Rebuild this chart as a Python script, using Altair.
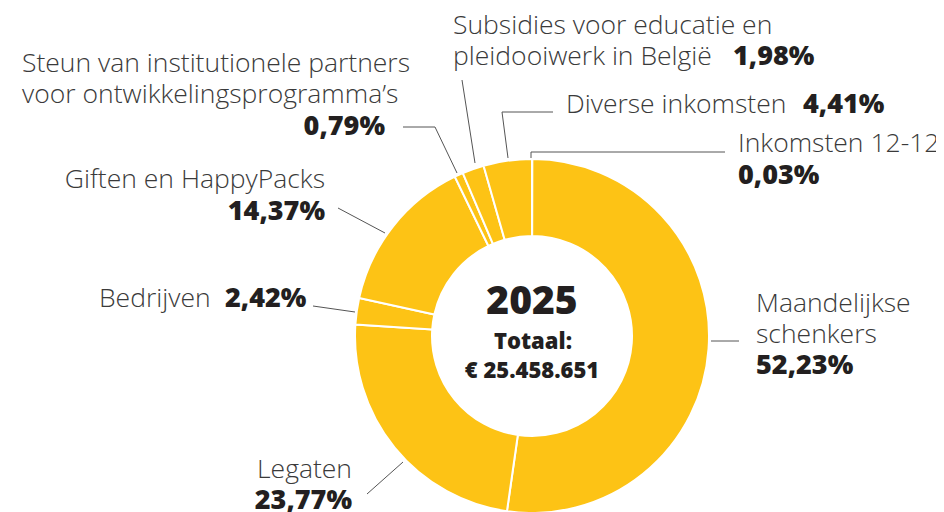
import altair as alt
import pandas as pd

# ---- data (clockwise from 12 o'clock) ----
categories = [
    "Inkomsten 12-12",
    "Maandelijkse schenkers",
    "Legaten",
    "Bedrijven",
    "Giften en HappyPacks",
    "Steun van institutionele partners voor ontwikkelingsprogramma’s",
    "Subsidies voor educatie en pleidooiwerk in België",
    "Diverse inkomsten",
]
values = [0.03, 52.23, 23.77, 2.42, 14.37, 0.79, 1.98, 4.41]
year_label = "2025"
total_label = "Totaal:"
total_value = "€ 25.458.651"

# name split into lines for the labels
name_lines = [
    ["Inkomsten 12-12"],
    ["Maandelijkse", "schenkers"],
    ["Legaten"],
    ["Bedrijven"],
    ["Giften en HappyPacks"],
    ["Steun van institutionele partners", "voor ontwikkelingsprogramma’s"],
    ["Subsidies voor educatie en", "pleidooiwerk in België"],
    ["Diverse inkomsten"],
]
pct_labels = [f"{v:.2f}".replace(".", ",") + "%" for v in values]

# ---- layout (page pixel positions of annotations) ----
name_pos = [
    [(738, 152, "left")],
    [(756, 312, "left"), (756, 343, "left")],
    [(352, 478, "right")],
    [(99, 307, "left")],
    [(325, 188, "right")],
    [(22, 72, "left"), (22, 103, "left")],
    [(453, 34, "left"), (453, 65, "left")],
    [(566, 113, "left")],
]
pct_pos = [
    (738, 184, "left"),
    (756, 374, "left"),
    (352, 509, "right"),
    (225, 307, "left"),
    (325, 220, "right"),
    (385, 135, "right"),
    (733, 65, "left"),
    (803, 113, "left"),
]
leader_pts = [
    [(531, 158), (531, 152), (725, 152)],
    [(711, 341), (739, 341)],
    [(403, 462), (367, 494)],
    [(355, 312), (313, 306)],
    [(385, 233), (338, 208)],
    [(457, 173), (435, 127), (403, 127)],
    [(475, 163), (462, 80)],
    [(508, 158), (502, 112), (553, 112)],
]

YELLOW = "#FDC315"
GREY = "#3a3a3a"
DARK = "#231F20"
LINE = "#555555"
FONT = "Open Sans"

W, H = 928, 504

slices = pd.DataFrame({"category": categories, "value": values,
                       "idx": list(range(len(values)))})

rows = []
for i in range(len(categories)):
    for line, (x, y, a) in zip(name_lines[i], name_pos[i]):
        rows.append({"text": line, "x": x, "y": y, "align": a, "style": "reg"})
    x, y, a = pct_pos[i]
    rows.append({"text": pct_labels[i], "x": x, "y": y, "align": a, "style": "bold"})
labels = pd.DataFrame(rows)

lrows = []
for i, pts in enumerate(leader_pts):
    for j, (x, y) in enumerate(pts):
        lrows.append({"seg": i, "ord": j, "x": x, "y": y})
leaders = pd.DataFrame(lrows)

xs = alt.Scale(domain=[8, 8 + W], range=[0, W])
ys = alt.Scale(domain=[8, 8 + H], range=[0, H])

CX, CY = 532 - 8, 336 - 8

donut = alt.Chart(slices).mark_arc(
    innerRadius=100, outerRadius=177, stroke="white", strokeWidth=2
).encode(
    theta=alt.Theta("value:Q", stack=True),
    order=alt.Order("idx:Q"),
    color=alt.value(YELLOW),
    x=alt.value(CX),
    y=alt.value(CY),
)

lines = alt.Chart(leaders).mark_line(color=LINE, strokeWidth=1).encode(
    x=alt.X("x:Q", scale=xs, axis=None),
    y=alt.Y("y:Q", scale=ys, axis=None),
    detail="seg:N",
    order="ord:Q",
)


def text_layer(style, align, weight, color, size):
    return alt.Chart(labels).transform_filter(
        (alt.datum.style == style) & (alt.datum.align == align)
    ).mark_text(
        align=align, baseline="alphabetic", font=FONT, fontSize=size,
        fontWeight=weight, color=color
    ).encode(
        x=alt.X("x:Q", scale=xs, axis=None),
        y=alt.Y("y:Q", scale=ys, axis=None),
        text="text:N",
    )


center = pd.DataFrame({
    "text": [year_label, total_label, total_value],
    "x": [532, 533, 532],
    "y": [314, 349, 378],
})
center_big = alt.Chart(center.iloc[[0]]).mark_text(
    align="center", baseline="alphabetic", font=FONT, fontSize=39,
    fontWeight=800, color=DARK
).encode(x=alt.X("x:Q", scale=xs, axis=None),
         y=alt.Y("y:Q", scale=ys, axis=None), text="text:N")
center_small = alt.Chart(center.iloc[1:]).mark_text(
    align="center", baseline="alphabetic", font=FONT, fontSize=22,
    fontWeight=800, color=DARK
).encode(x=alt.X("x:Q", scale=xs, axis=None),
         y=alt.Y("y:Q", scale=ys, axis=None), text="text:N")

chart = alt.layer(
    donut,
    lines,
    text_layer("reg", "left", 300, GREY, 26.5),
    text_layer("reg", "right", 300, GREY, 26.5),
    text_layer("bold", "left", 800, DARK, 27),
    text_layer("bold", "right", 800, DARK, 27),
    center_big,
    center_small,
).properties(
    width=W, height=H, padding=0, autosize=alt.AutoSizeParams(type="none")
).configure_view(stroke=None)

chart.save("out.html", embed_options={"renderer": "svg", "actions": False})
